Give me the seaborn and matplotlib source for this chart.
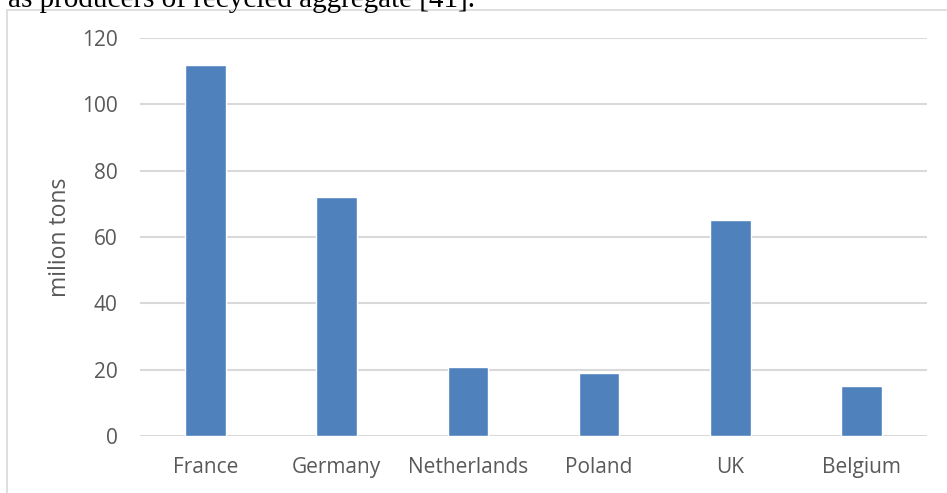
import matplotlib.pyplot as plt
import pandas as pd
import seaborn as sns
from matplotlib.lines import Line2D

countries = ["France", "Germany", "Netherlands", "Poland", "UK", "Belgium"]
tons = [112, 72, 20.7, 19, 65, 15]
y_ticks = [0, 20, 40, 60, 80, 100, 120]

BAR_COLOR = "#4F81BD"
GRID_COLOR = "#D9D9D9"
TEXT_COLOR = "#595959"

sns.set_theme(style="white")
plt.rcParams["font.family"] = ["Open Sans", "DejaVu Sans"]

df = pd.DataFrame({"country": countries, "tons": tons})

fig = plt.figure(figsize=(9.47, 4.93), dpi=100)
ax = fig.add_axes([140 / 947, 1 - 436 / 493, 787 / 947, 398 / 493])

sns.barplot(data=df, x="country", y="tons", color=BAR_COLOR, width=0.31,
            saturation=1, ax=ax, zorder=3)

ax.set_ylim(0, 120)
ax.set_yticks(y_ticks)
ax.yaxis.grid(True, color=GRID_COLOR, linewidth=1.5, zorder=0)
ax.set_axisbelow(True)
for spine in ax.spines.values():
    spine.set_visible(False)
ax.tick_params(axis="both", length=0, labelsize=15, labelcolor=TEXT_COLOR)
ax.tick_params(axis="y", pad=16)
ax.tick_params(axis="x", pad=15)
ax.set_xlabel("")
ax.set_ylabel("milion tons", fontsize=16.5, color=TEXT_COLOR, labelpad=7)

# chart frame from the document page
fig.add_artist(Line2D([7 / 947, 7 / 947], [0, 1 - 10 / 493], color=GRID_COLOR, linewidth=1.2))
fig.add_artist(Line2D([7 / 947, 1], [1 - 10 / 493, 1 - 10 / 493], color=GRID_COLOR, linewidth=1.2))

# cut-off body text above the chart
fig.text(8 / 947, 1 - 7 / 493, "as producers of recycled aggregate [41].",
         family="Liberation Serif", fontsize=21, color="black", va="baseline")

fig.savefig("out.png", dpi=100)
